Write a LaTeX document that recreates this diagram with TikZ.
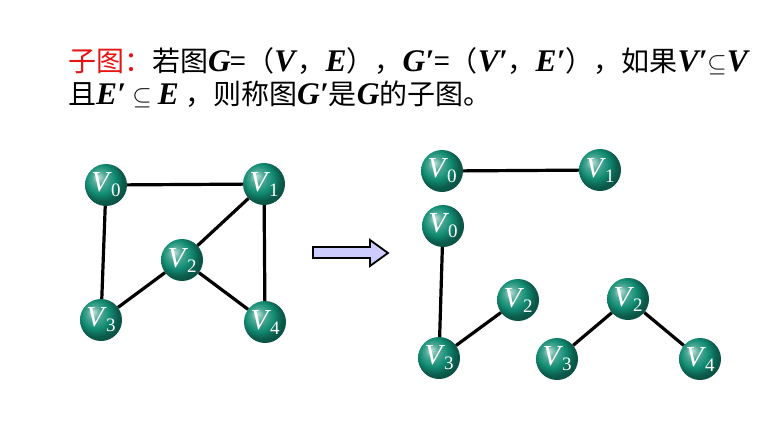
\documentclass[tikz,border=0pt]{standalone}
\usepackage{fontspec}
\setmainfont{Liberation Serif}
\newfontfamily\cjk{Noto Sans CJK SC}
\definecolor{ballc}{RGB}{18,140,115}
\definecolor{arrowfill}{RGB}{204,204,255}
\definecolor{titlered}{RGB}{230,20,20}
\pgfdeclareradialshading{tealball}{\pgfqpoint{-10bp}{10bp}}{color(0bp)=(ballc!25!white); color(8bp)=(ballc!75!white); color(17bp)=(ballc); color(25bp)=(ballc!65!black); color(50bp)=(ballc!30!black)}
\newcommand{\vlab}[1]{{\fontsize{29}{29}\selectfont\textit{V}}\kern-1pt{\fontsize{19}{19}\selectfont\raisebox{-5pt}{#1}}}
\newcommand{\bi}[1]{{\rmfamily\fontsize{31.5}{31.5}\selectfont\textbf{\textit{#1}}}}
\begin{document}
\begin{tikzpicture}[x=1pt,y=-1pt,
  vert/.style={circle,minimum size=42pt,inner sep=0pt,shading=tealball,text=white},
  edge/.style={line width=3.2pt,black}]
\useasboundingbox (0,0) rectangle (783,429);
% text
\node[anchor=west,inner sep=0pt] (l1) at (68,61) {\cjk\fontsize{28}{28}\selectfont{\color{titlered}子图：}若图\bi{G}=（\bi{V}，\bi{E}），\bi{G′}=（\bi{V′}，\bi{E′}），如果\bi{V′}$\subseteq$\bi{V}};
\node[anchor=west,inner sep=0pt] (l2) at (68,94) {\cjk\fontsize{28}{28}\selectfont 且\bi{E′} $\subseteq$ \bi{E} ，则称图\bi{G′}是\bi{G}的子图。};
% left graph
\node[vert] (a0) at (106,185) {\vlab{0}};
\node[vert] (a1) at (264,184) {\vlab{1}};
\node[vert] (a2) at (182,260) {\vlab{2}};
\node[vert] (a3) at (101,320) {\vlab{3}};
\node[vert] (a4) at (265,322) {\vlab{4}};
\draw[edge] (a0) -- (a1);
\draw[edge] (a0) -- (a3);
\draw[edge] (a1) -- (a4);
\draw[edge] (a1) -- (a2);
\draw[edge] (a2) -- (a3);
\draw[edge] (a2) -- (a4);
% arrow
\draw[line width=1.8pt,fill=arrowfill,line join=miter] (313,247) -- (370,247) -- (370,240) -- (388,253) -- (370,266) -- (370,258) -- (313,258) -- cycle;
% right graphs
\node[vert] (b0) at (442,171) {\vlab{0}};
\node[vert] (b1) at (600,170) {\vlab{1}};
\draw[edge] (b0) -- (b1);
\node[vert] (c0) at (443,226) {\vlab{0}};
\node[vert] (c3) at (439,358) {\vlab{3}};
\node[vert] (c2) at (518,300) {\vlab{2}};
\draw[edge] (c0) -- (c3);
\draw[edge] (c3) -- (c2);
\node[vert] (d3) at (557,359) {\vlab{3}};
\node[vert] (d2) at (628,299) {\vlab{2}};
\node[vert] (d4) at (700,359) {\vlab{4}};
\draw[edge] (d3) -- (d2);
\draw[edge] (d2) -- (d4);
\end{tikzpicture}
\end{document}
